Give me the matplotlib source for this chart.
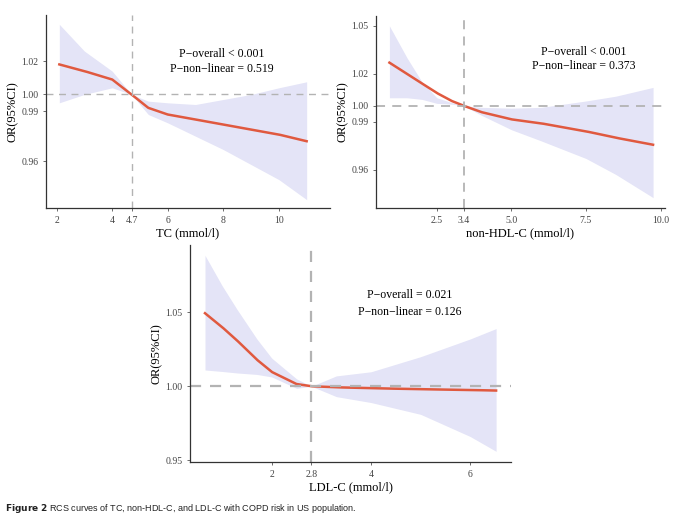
import matplotlib.pyplot as plt
import numpy as np

plt.rcParams['font.family'] = ['Liberation Serif', 'DejaVu Serif']

# TC panel
tc_x = [2.1, 3.0, 4.0, 4.7, 5.3, 6.0, 7.0, 8.0, 9.0, 10.0, 11.0]
tc_or = [1.018, 1.014, 1.009, 1.000, 0.992, 0.988, 0.985, 0.982, 0.979, 0.976, 0.972]
tc_hi = [1.042, 1.026, 1.014, 1.000, 0.996, 0.995, 0.994, 0.997, 1.000, 1.004, 1.0076]
tc_lo = [0.995, 1.000, 1.004, 1.000, 0.988, 0.983, 0.975, 0.967, 0.958, 0.949, 0.937]

# non-HDL-C panel
nh_x = [0.91, 1.5, 2.0, 2.5, 3.0, 3.4, 4.0, 5.0, 6.0, 7.5, 8.5, 9.75]
nh_or = [1.027, 1.020, 1.014, 1.008, 1.003, 1.000, 0.996, 0.9915, 0.989, 0.984, 0.980, 0.9756]
nh_hi = [1.050, 1.030, 1.015, 1.005, 1.002, 1.000, 0.999, 0.9985, 0.999, 1.003, 1.006, 1.0115]
nh_lo = [1.005, 1.005, 1.004, 1.0015, 1.001, 1.000, 0.994, 0.985, 0.978, 0.967, 0.957, 0.9425]

# LDL-C panel
ldl_x = [0.655, 1.0, 1.3, 1.7, 2.0, 2.5, 2.8, 3.3, 4.0, 5.0, 6.0, 6.52]
ldl_or = [1.0494, 1.040, 1.031, 1.018, 1.0097, 1.0015, 1.000, 0.9993, 0.9987, 0.998, 0.9975, 0.9971]
ldl_hi = [1.0885, 1.068, 1.052, 1.032, 1.019, 1.005, 1.000, 1.007, 1.0098, 1.020, 1.032, 1.039]
ldl_lo = [1.011, 1.010, 1.009, 1.008, 1.0063, 0.9986, 1.000, 0.993, 0.989, 0.981, 0.966, 0.956]

panels = [
    dict(x=tc_x, y=tc_or, hi=tc_hi, lo=tc_lo, ref=4.7, xlabel='TC (mmol/l)',
         xticks=[2, 4, 4.7, 6, 8, 10], xtl=['2', '4', '4.7', '6', '8', '10'],
         yticks=[0.96, 0.99, 1.00, 1.02], ytl=['0.96', '0.99', '1.00', '1.02'],
         xlim=(1.62, 11.84), ylim=(0.932, 1.0476),
         t1='P\u2212overall < 0.001', t2='P\u2212non\u2212linear = 0.519', tx=0.62, ty=(0.80, 0.72),
         rect=[46 / 680, 1 - 208 / 517, 284 / 680, 193 / 517], lw=1),
    dict(x=nh_x, y=nh_or, hi=nh_hi, lo=nh_lo, ref=3.4, xlabel='non-HDL-C (mmol/l)',
         xticks=[2.5, 3.4, 5.0, 7.5, 10.0], xtl=['2.5', '3.4', '5.0', '7.5', '10.0'],
         yticks=[0.96, 0.99, 1.00, 1.02, 1.05], ytl=['0.96', '0.99', '1.00', '1.02', '1.05'],
         xlim=(0.46, 10.15), ylim=(0.936, 1.0562),
         t1='P\u2212overall < 0.001', t2='P\u2212non\u2212linear = 0.373', tx=0.72, ty=(0.81, 0.74),
         rect=[376 / 680, 1 - 208 / 517, 289 / 680, 192 / 517], lw=1.3),
    dict(x=ldl_x, y=ldl_or, hi=ldl_hi, lo=ldl_lo, ref=2.8, xlabel='LDL-C (mmol/l)',
         xticks=[2, 2.8, 4, 6], xtl=['2', '2.8', '4', '6'],
         yticks=[0.95, 1.00, 1.05], ytl=['0.95', '1.00', '1.05'],
         xlim=(0.353, 6.82), ylim=(0.9488, 1.0955),
         t1='P\u2212overall = 0.021', t2='P\u2212non\u2212linear = 0.126', tx=0.685, ty=(0.77, 0.69),
         rect=[190 / 680, 1 - 462 / 517, 321 / 680, 217 / 517], lw=1.6),
]

fig = plt.figure(figsize=(6.8, 5.17), dpi=100)
for p in panels:
    ax = fig.add_axes(p['rect'])
    xs = np.linspace(p['x'][0], p['x'][-1], 300)
    ax.fill_between(xs, np.interp(xs, p['x'], p['lo']), np.interp(xs, p['x'], p['hi']),
                    color='#e4e4f7', lw=0)
    ax.plot(xs, np.interp(xs, p['x'], p['y']), color='#e0593f', lw=1.8)
    ax.axhline(1.0, color='#b3b3b3', ls=(0, (5, 4)), lw=p['lw'])
    ax.axvline(p['ref'], color='#b3b3b3', ls=(0, (5, 4)), lw=p['lw'])
    ax.set_xlim(p['xlim'])
    ax.set_ylim(p['ylim'])
    ax.set_xticks(p['xticks'], p['xtl'])
    ax.set_yticks(p['yticks'], p['ytl'])
    ax.tick_params(labelsize=7, colors='#555555', length=2, width=0.6)
    ax.tick_params(labelcolor='#444444')
    ax.set_xlabel(p['xlabel'], fontsize=9, labelpad=2)
    ax.set_ylabel('OR(95%CI)', fontsize=9, labelpad=2)
    for s in ['top', 'right']:
        ax.spines[s].set_visible(False)
    for s in ['left', 'bottom']:
        ax.spines[s].set_linewidth(0.9)
        ax.spines[s].set_color('#333333')
    ax.text(p['tx'], p['ty'][0], p['t1'], transform=ax.transAxes, ha='center', va='center', fontsize=8.5)
    ax.text(p['tx'], p['ty'][1], p['t2'], transform=ax.transAxes, ha='center', va='center', fontsize=8.5)

fig.text(0.008, 0.012, r'$\bf{Figure\ 2}$ RCS curves of TC, non-HDL-C, and LDL-C with COPD risk in US population.',
         fontsize=6.5, family='Liberation Sans', color='#222222')
fig.savefig('out.png', dpi=100)
